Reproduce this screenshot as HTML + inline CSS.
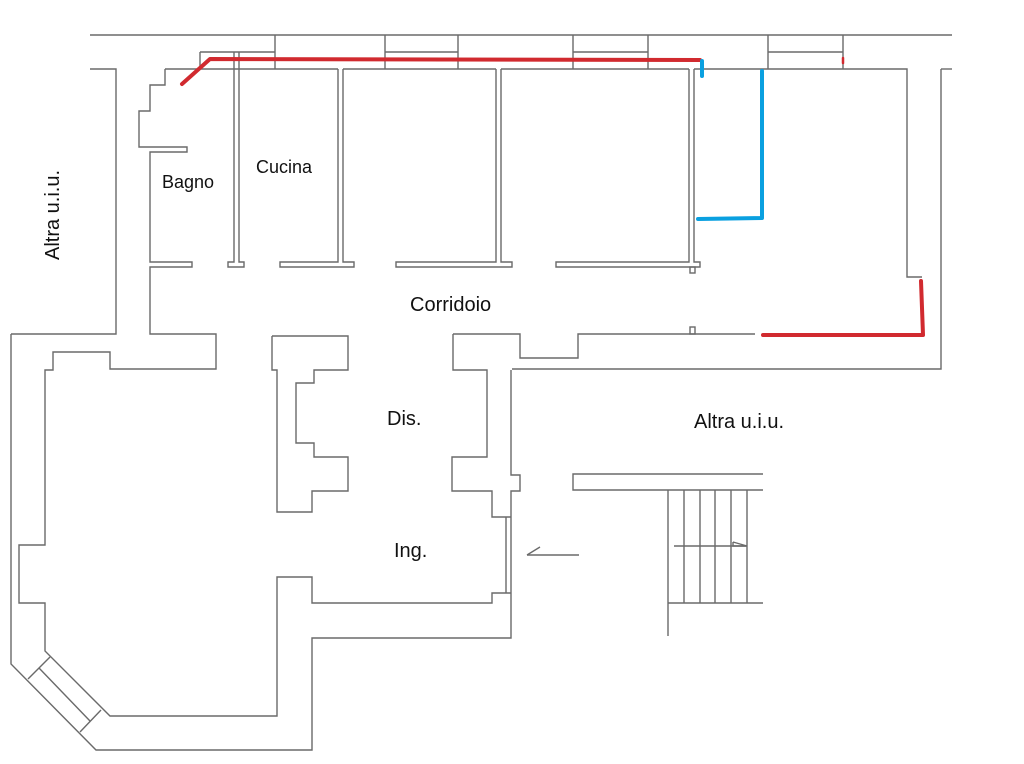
<!DOCTYPE html>
<html><head><meta charset="utf-8"><style>
body{margin:0;background:#fff}
svg{display:block}
text{font-family:"Liberation Sans",sans-serif;fill:#111}
</style></head><body>
<svg width="1024" height="764" viewBox="0 0 1024 764" xmlns="http://www.w3.org/2000/svg">
<g fill="none" stroke="#6a6a6a" stroke-width="1.4">
<line x1="90" y1="35" x2="952" y2="35"/>
<line x1="200" y1="52" x2="275" y2="52"/><line x1="200" y1="52" x2="200" y2="69"/>
<line x1="275" y1="35" x2="275" y2="69"/>
<line x1="385" y1="35" x2="385" y2="69"/><line x1="458" y1="35" x2="458" y2="69"/><line x1="385" y1="52" x2="458" y2="52"/>
<line x1="573" y1="35" x2="573" y2="69"/><line x1="648" y1="35" x2="648" y2="69"/><line x1="573" y1="52" x2="648" y2="52"/>
<line x1="768" y1="35" x2="768" y2="69"/><line x1="843" y1="35" x2="843" y2="69"/><line x1="768" y1="52" x2="843" y2="52"/>
<polyline points="90,69 116,69 116,334 11,334"/>
<line x1="165" y1="69" x2="338" y2="69"/>
<line x1="343" y1="69" x2="496" y2="69"/>
<line x1="501" y1="69" x2="689" y2="69"/>
<polyline points="694,69 907,69 907,277 922,277"/>
<polyline points="941,69 952,69"/>
<polyline points="941,69 941,369 512,369"/>
<polyline points="165,69 165,85 150,85 150,111 139,111 139,147 187,147 187,152 150,152 150,262 192,262 192,267 150,267 150,334 216,334 216,369 110,369 110,352 53,352 53,370 45,370 45,545 19,545 19,603 45,603 45,651 110,716 277,716 277,577 312,577 312,603 492,603 492,593 511,593"/>
<polyline points="234,52 234,262 228,262 228,267 244,267 244,262 239,262 239,52"/>
<polyline points="338,69 338,262 280,262 280,267 354,267 354,262 343,262 343,69"/>
<polyline points="496,69 496,262 396,262 396,267 512,267 512,262 501,262 501,69"/>
<polyline points="689,69 689,262 556,262 556,267 700,267 700,262 694,262 694,69"/>
<rect x="690" y="267" width="5" height="6"/>
<rect x="690" y="327" width="5" height="7"/>
<polyline points="453,334 520,334 520,358 578,358 578,334 755,334"/>
<polyline points="272,336 348,336 348,370 314,370 314,383 296,383 296,443 314,443 314,457 348,457 348,491 312,491 312,512 277,512 277,370 272,370 272,336"/>
<polyline points="453,334 453,370 487,370 487,457 452,457 452,491 492,491 492,517 511,517"/>
<polyline points="11,334 11,664 96,750 312,750 312,638 511,638 511,491 520,491 520,475 511,475 511,370"/>
<line x1="506" y1="517" x2="506" y2="593"/>
<line x1="50" y1="657" x2="28" y2="679"/>
<line x1="101" y1="710" x2="80" y2="732"/>
<line x1="39" y1="668" x2="90" y2="721"/>
<polyline points="763,474 573,474 573,490 763,490"/>
<line x1="668" y1="490" x2="668" y2="636"/>
<line x1="684" y1="490" x2="684" y2="603"/>
<line x1="700" y1="490" x2="700" y2="603"/>
<line x1="715" y1="490" x2="715" y2="603"/>
<line x1="731" y1="490" x2="731" y2="603"/>
<line x1="747" y1="490" x2="747" y2="603"/>
<line x1="668" y1="603" x2="763" y2="603"/>
<line x1="674" y1="546" x2="747" y2="546"/>
<polyline points="733,542 747,546 733,546 733,542"/>
<line x1="527" y1="555" x2="579" y2="555"/>
<line x1="527" y1="555" x2="540" y2="547"/>
</g>
<g fill="none" stroke-linecap="round" stroke-linejoin="round" stroke-width="4">
<polyline stroke="#d12a2f" points="182,84 210,59 700,60"/>
<polyline stroke="#d12a2f" points="921,281 923,335 763,335"/>
<line stroke="#d12a2f" stroke-width="2.5" x1="843" y1="58" x2="843" y2="63"/>
<polyline stroke="#0aa0e0" points="702,61 702,76"/>
<polyline stroke="#0aa0e0" points="762,71 762,218 698,219"/>
</g>
<text x="162" y="188" font-size="18">Bagno</text>
<text x="256" y="173" font-size="18">Cucina</text>
<text x="410" y="311" font-size="20">Corridoio</text>
<text x="387" y="425" font-size="20">Dis.</text>
<text x="394" y="557" font-size="20">Ing.</text>
<text x="694" y="428" font-size="20">Altra u.i.u.</text>
<text transform="translate(59,215) rotate(-90)" text-anchor="middle" font-size="20">Altra u.i.u.</text>
</svg>
</body></html>
